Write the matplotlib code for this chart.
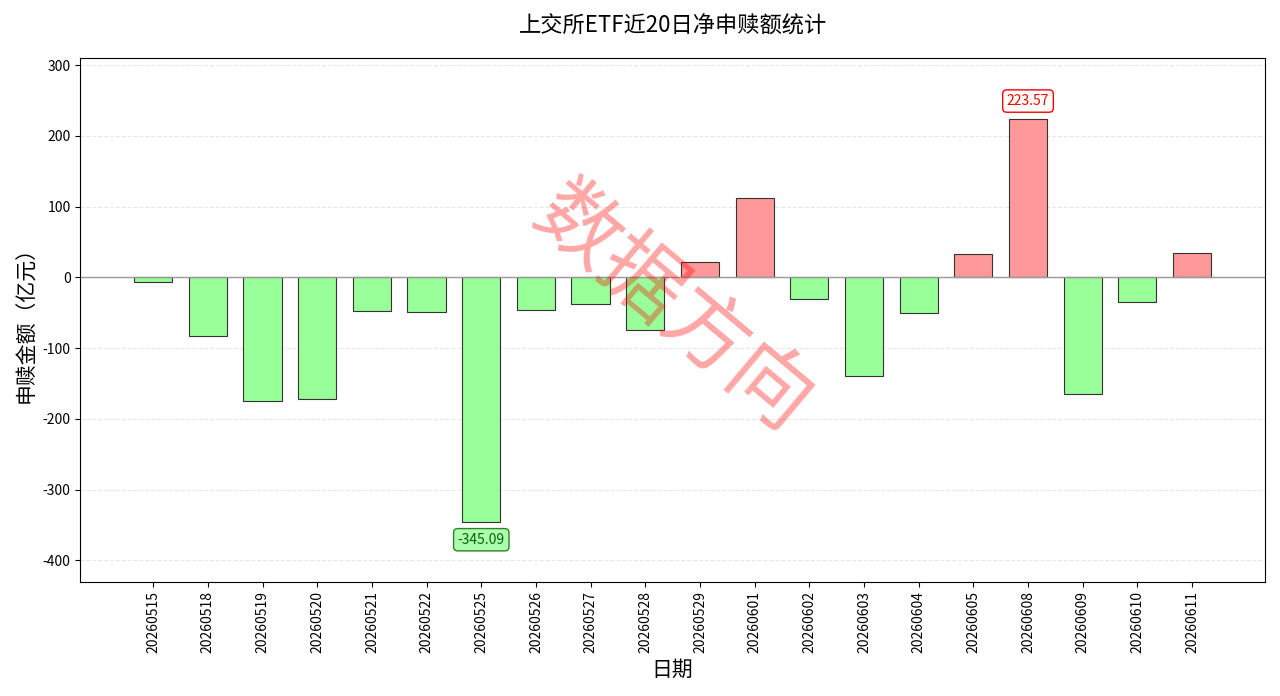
import numpy as np
import matplotlib
matplotlib.use('Agg')
import matplotlib.pyplot as plt

plt.rcParams['font.family'] = ['Noto Sans CJK SC', 'DejaVu Sans']
plt.rcParams['axes.unicode_minus'] = False

dates = ['20260515', '20260518', '20260519', '20260520', '20260521', '20260522',
         '20260525', '20260526', '20260527', '20260528', '20260529', '20260601',
         '20260602', '20260603', '20260604', '20260605', '20260608', '20260609',
         '20260610', '20260611']
values = [-7, -83, -175, -172, -47, -49, -345.09, -46, -37, -75, 22, 112,
          -31, -139, -51, 33, 223.57, -165, -35, 34]

fig, ax = plt.subplots(figsize=(12.8, 6.96), dpi=100)
x = np.arange(len(dates))
colors = ['#ff9999' if v > 0 else '#99ff99' for v in values]
ax.bar(x, values, width=0.7, color=colors, edgecolor='#333333', linewidth=0.8)
ax.axhline(0, color='#999999', linewidth=1)

ax.set_xticks(x)
ax.set_xticklabels(dates, rotation=90)
ax.set_ylim(-430, 310)
ax.set_yticks(range(-400, 301, 100))
ax.grid(axis='y', linestyle='--', alpha=0.3)
ax.set_axisbelow(True)
ax.set_xlabel('日期', fontsize=15)
ax.set_ylabel('申赎金额（亿元）', fontsize=15)
ax.set_title('上交所ETF近20日净申赎额统计', fontsize=16, pad=18)

imax = int(np.argmax(values))
imin = int(np.argmin(values))
ax.annotate(f'{values[imax]:.2f}', (x[imax], values[imax]), xytext=(0, 8),
            textcoords='offset points', ha='center', va='bottom', color='red',
            bbox=dict(boxstyle='round,pad=0.3', fc='white', ec='red'))
ax.annotate(f'{values[imin]:.2f}', (x[imin], values[imin]), xytext=(0, -8),
            textcoords='offset points', ha='center', va='top', color='darkgreen',
            bbox=dict(boxstyle='round,pad=0.3', fc='#99ff99', ec='darkgreen', alpha=0.8))

ax.text(0.5, 0.52, '数据方向', transform=ax.transAxes, fontsize=60, color='red',
        alpha=0.35, rotation=-40, ha='center', va='center')

plt.tight_layout()
plt.savefig('out.png', dpi=100)
